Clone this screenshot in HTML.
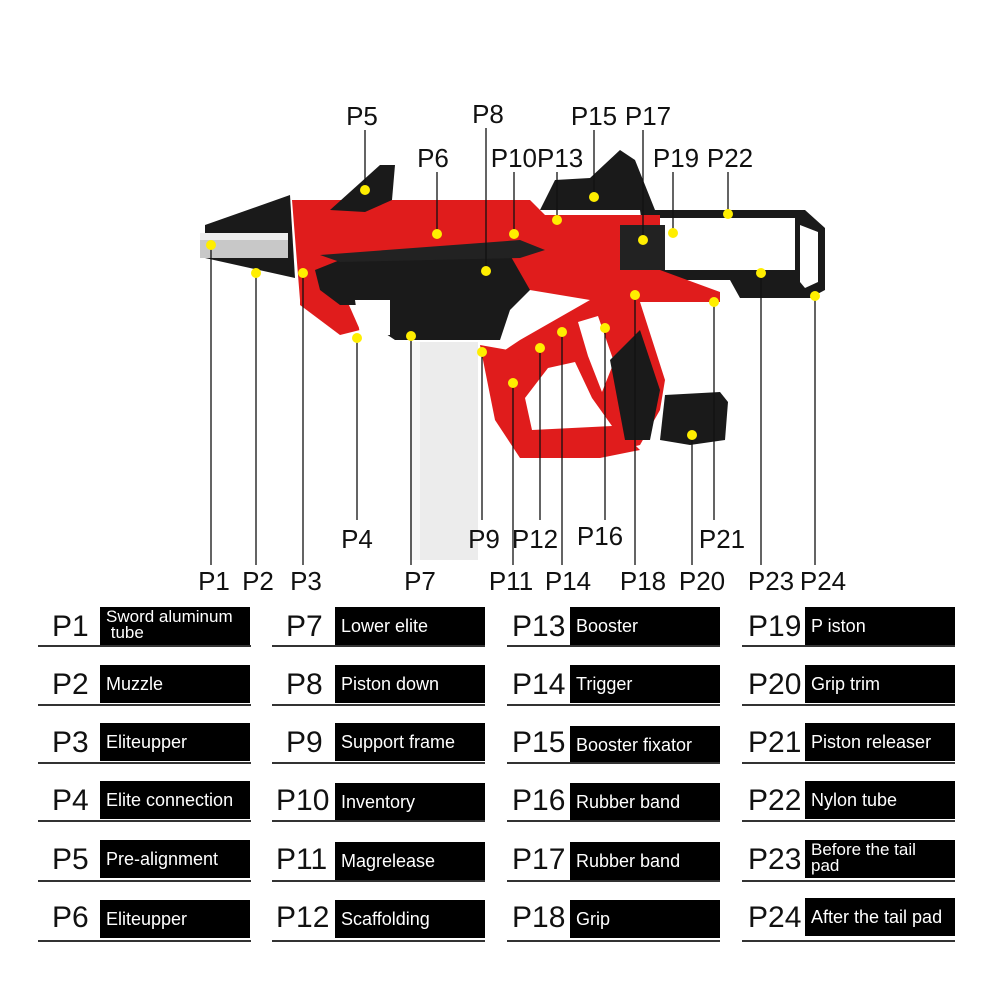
<!DOCTYPE html>
<html><head><meta charset="utf-8"><style>
body{margin:0;background:#fff;}
#w{position:relative;width:1000px;height:1000px;overflow:hidden;font-family:"Liberation Sans",sans-serif;}
.l{position:absolute;font-size:30px;color:#111;line-height:36px;}
.b{position:absolute;background:#000;color:#fff;font-size:18px;line-height:18px;height:38px;width:150px;box-sizing:border-box;padding:10px 0 0 6px;white-space:nowrap;overflow:hidden;}
.b.two{padding-top:2px;line-height:16px;font-size:17px;}
.u{position:absolute;height:2px;background:#333;width:213px;}
svg text{font-family:"Liberation Sans",sans-serif;font-size:26px;fill:#111;}
</style></head><body><div id="w">
<svg width="1000" height="600" style="position:absolute;left:0;top:0">
<!-- stock -->
<path d="M640 210 L805 210 L825 228 L825 290 L810 298 L740 298 L730 280 L650 280 Z M660 218 L660 270 L795 270 L795 218 Z" fill="#1a1a1a" fill-rule="evenodd"/>
<path d="M800 225 L818 232 L818 282 L805 288 L800 282 Z" fill="#fff"/>
<!-- grip trim -->
<path d="M665 395 L720 392 L728 402 L725 440 L690 445 L660 440 Z" fill="#1a1a1a"/>
<!-- red upper -->
<path d="M292 200 L530 200 L545 215 L660 215 L660 270 L720 292 L720 302 L640 302 L665 380 L660 410 L640 445 L600 455 L520 455 L500 420 L490 360 L520 340 L590 300 L470 280 L300 300 Z" fill="#e01c1c"/>
<path d="M300 260 L330 262 L360 330 L340 335 L300 305 Z" fill="#e01c1c"/>
<path d="M480 345 L520 352 L510 400 L520 440 L600 445 L620 430 L640 450 L600 458 L520 458 L495 420 Z" fill="#e01c1c"/>
<!-- holes -->
<path d="M525 398 L548 368 L575 362 L592 398 L612 426 L532 430 Z" fill="#fff"/>
<path d="M578 322 L598 316 L614 362 L602 392 L588 356 Z" fill="#fff"/>
<!-- black receiver -->
<path d="M315 270 L345 258 L510 255 L530 290 L510 310 L500 340 L395 340 L380 330 L370 305 L340 305 L320 290 Z" fill="#1a1a1a"/>
<path d="M355 300 L390 300 L390 335 L360 335 Z" fill="#fff"/>
<path d="M320 255 L520 240 L545 250 L520 258 L340 262 Z" fill="#222"/>
<!-- muzzle -->
<path d="M205 225 L290 195 L295 278 L205 258 Z" fill="#1a1a1a"/>
<rect x="200" y="233" width="88" height="25" fill="#c8c8c8"/>
<rect x="200" y="233" width="88" height="7" fill="#eee"/>
<!-- P5 sight -->
<path d="M330 210 L380 165 L395 165 L392 200 L365 212 Z" fill="#1a1a1a"/>
<!-- booster -->
<path d="M540 210 L555 180 L590 178 L620 150 L635 160 L655 210 Z" fill="#1a1a1a"/>
<rect x="620" y="225" width="45" height="45" fill="#222"/>
<!-- grip black -->
<path d="M610 360 L640 330 L660 390 L650 440 L625 440 Z" fill="#1a1a1a"/>
<!-- magazine -->
<rect x="410" y="342" width="68" height="218" fill="#ececec"/>
<rect x="412" y="342" width="8" height="218" fill="#f7f7f7"/>
<g stroke="#111" stroke-width="1.3">
<line x1="211" y1="245" x2="211" y2="565"/><line x1="256" y1="273" x2="256" y2="565"/>
<line x1="303" y1="273" x2="303" y2="565"/><line x1="357" y1="338" x2="357" y2="520"/>
<line x1="411" y1="336" x2="411" y2="565"/><line x1="482" y1="352" x2="482" y2="520"/>
<line x1="513" y1="383" x2="513" y2="565"/><line x1="540" y1="348" x2="540" y2="520"/>
<line x1="562" y1="332" x2="562" y2="565"/><line x1="605" y1="328" x2="605" y2="520"/>
<line x1="635" y1="295" x2="635" y2="565"/><line x1="692" y1="435" x2="692" y2="565"/>
<line x1="714" y1="302" x2="714" y2="520"/><line x1="761" y1="273" x2="761" y2="565"/>
<line x1="815" y1="296" x2="815" y2="565"/>
<line x1="365" y1="130" x2="365" y2="190"/><line x1="486" y1="128" x2="486" y2="271"/>
<line x1="437" y1="172" x2="437" y2="234"/><line x1="514" y1="172" x2="514" y2="234"/>
<line x1="557" y1="172" x2="557" y2="220"/><line x1="594" y1="130" x2="594" y2="197"/>
<line x1="643" y1="130" x2="643" y2="240"/><line x1="673" y1="172" x2="673" y2="233"/>
<line x1="728" y1="172" x2="728" y2="214"/>
</g>
<g fill="#ffee00">
<circle cx="211" cy="245" r="5"/><circle cx="256" cy="273" r="5"/><circle cx="303" cy="273" r="5"/>
<circle cx="357" cy="338" r="5"/><circle cx="365" cy="190" r="5"/><circle cx="437" cy="234" r="5"/>
<circle cx="411" cy="336" r="5"/><circle cx="486" cy="271" r="5"/><circle cx="482" cy="352" r="5"/>
<circle cx="514" cy="234" r="5"/><circle cx="513" cy="383" r="5"/><circle cx="540" cy="348" r="5"/>
<circle cx="557" cy="220" r="5"/><circle cx="562" cy="332" r="5"/><circle cx="594" cy="197" r="5"/>
<circle cx="605" cy="328" r="5"/><circle cx="643" cy="240" r="5"/><circle cx="635" cy="295" r="5"/>
<circle cx="673" cy="233" r="5"/><circle cx="692" cy="435" r="5"/><circle cx="714" cy="302" r="5"/>
<circle cx="728" cy="214" r="5"/><circle cx="761" cy="273" r="5"/><circle cx="815" cy="296" r="5"/>
</g>
<g text-anchor="middle">
<text x="362" y="125">P5</text><text x="488" y="123">P8</text><text x="594" y="125">P15</text><text x="648" y="125">P17</text>
<text x="433" y="167">P6</text><text x="537" y="167">P10P13</text><text x="676" y="167">P19</text><text x="730" y="167">P22</text>
<text x="357" y="548">P4</text><text x="484" y="548">P9</text><text x="535" y="548">P12</text><text x="600" y="545">P16</text><text x="722" y="548">P21</text>
<text x="214" y="590">P1</text><text x="258" y="590">P2</text><text x="306" y="590">P3</text><text x="420" y="590">P7</text>
<text x="511" y="590">P11</text><text x="568" y="590">P14</text><text x="643" y="590">P18</text><text x="702" y="590">P20</text>
<text x="771" y="590">P23</text><text x="823" y="590">P24</text>
</g>
</svg>

<div class="l" style="left:52px;top:609px">P1</div><div class="b two" style="left:100px;top:607px">Sword aluminum<br>&nbsp;tube</div><div class="u" style="left:38px;top:645px"></div>
<div class="l" style="left:52px;top:667px">P2</div><div class="b" style="left:100px;top:665px">Muzzle</div><div class="u" style="left:38px;top:704px"></div>
<div class="l" style="left:52px;top:725px">P3</div><div class="b" style="left:100px;top:723px">Eliteupper</div><div class="u" style="left:38px;top:762px"></div>
<div class="l" style="left:52px;top:783px">P4</div><div class="b" style="left:100px;top:781px">Elite connection</div><div class="u" style="left:38px;top:820px"></div>
<div class="l" style="left:52px;top:842px">P5</div><div class="b" style="left:100px;top:840px">Pre-alignment</div><div class="u" style="left:38px;top:880px"></div>
<div class="l" style="left:52px;top:900px">P6</div><div class="b" style="left:100px;top:900px">Eliteupper</div><div class="u" style="left:38px;top:940px"></div>

<div class="l" style="left:286px;top:609px">P7</div><div class="b" style="left:335px;top:607px">Lower elite</div><div class="u" style="left:272px;top:645px"></div>
<div class="l" style="left:286px;top:667px">P8</div><div class="b" style="left:335px;top:665px">Piston down</div><div class="u" style="left:272px;top:704px"></div>
<div class="l" style="left:286px;top:725px">P9</div><div class="b" style="left:335px;top:723px">Support frame</div><div class="u" style="left:272px;top:762px"></div>
<div class="l" style="left:276px;top:783px">P10</div><div class="b" style="left:335px;top:783px">Inventory</div><div class="u" style="left:272px;top:820px"></div>
<div class="l" style="left:276px;top:842px">P11</div><div class="b" style="left:335px;top:842px">Magrelease</div><div class="u" style="left:272px;top:880px"></div>
<div class="l" style="left:276px;top:900px">P12</div><div class="b" style="left:335px;top:900px">Scaffolding</div><div class="u" style="left:272px;top:940px"></div>

<div class="l" style="left:512px;top:609px">P13</div><div class="b" style="left:570px;top:607px">Booster</div><div class="u" style="left:507px;top:645px"></div>
<div class="l" style="left:512px;top:667px">P14</div><div class="b" style="left:570px;top:665px">Trigger</div><div class="u" style="left:507px;top:704px"></div>
<div class="l" style="left:512px;top:725px">P15</div><div class="b" style="left:570px;top:726px">Booster fixator</div><div class="u" style="left:507px;top:762px"></div>
<div class="l" style="left:512px;top:783px">P16</div><div class="b" style="left:570px;top:783px">Rubber band</div><div class="u" style="left:507px;top:820px"></div>
<div class="l" style="left:512px;top:842px">P17</div><div class="b" style="left:570px;top:842px">Rubber band</div><div class="u" style="left:507px;top:880px"></div>
<div class="l" style="left:512px;top:900px">P18</div><div class="b" style="left:570px;top:900px">Grip</div><div class="u" style="left:507px;top:940px"></div>

<div class="l" style="left:748px;top:609px">P19</div><div class="b" style="left:805px;top:607px">P iston</div><div class="u" style="left:742px;top:645px"></div>
<div class="l" style="left:748px;top:667px">P20</div><div class="b" style="left:805px;top:665px">Grip trim</div><div class="u" style="left:742px;top:704px"></div>
<div class="l" style="left:748px;top:725px">P21</div><div class="b" style="left:805px;top:723px">Piston releaser</div><div class="u" style="left:742px;top:762px"></div>
<div class="l" style="left:748px;top:783px">P22</div><div class="b" style="left:805px;top:781px">Nylon tube</div><div class="u" style="left:742px;top:820px"></div>
<div class="l" style="left:748px;top:842px">P23</div><div class="b two" style="left:805px;top:840px">Before the tail<br>pad</div><div class="u" style="left:742px;top:880px"></div>
<div class="l" style="left:748px;top:900px">P24</div><div class="b" style="left:805px;top:898px">After the tail pad</div><div class="u" style="left:742px;top:940px"></div>
</div></body></html>
